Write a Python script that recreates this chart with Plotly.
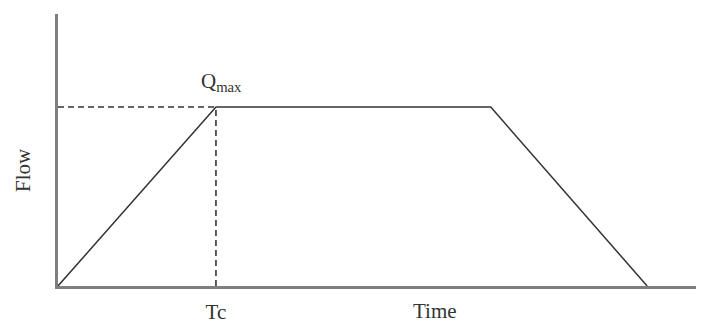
import plotly.graph_objects as go

# hydrograph outline (Tc = 1, Qmax = 1)
time = [0, 1, 2.74, 3.73]
flow = [0, 1, 1, 0]
tc = 1
qmax = 1
x_max = 4.09
y_max = 1.52

fig = go.Figure()
# dashed guides to Qmax and Tc
fig.add_trace(go.Scatter(x=[0, tc], y=[qmax, qmax], mode="lines",
                         line=dict(color="#333333", width=1.6, dash="6px,4px")))
fig.add_trace(go.Scatter(x=[tc, tc], y=[0, qmax], mode="lines",
                         line=dict(color="#333333", width=1.6, dash="6px,4px")))
fig.add_trace(go.Scatter(x=time, y=flow, mode="lines",
                         line=dict(color="#333333", width=1.5)))

font = dict(family="Liberation Serif", size=21, color="#333333")
# page body adds 8px margin, so figure is sized to fit the window
fig.update_layout(
    width=696, height=316,
    margin=dict(l=50, r=0, t=6, b=38),
    paper_bgcolor="white", plot_bgcolor="white",
    showlegend=False,
    font=font,
    xaxis=dict(range=[0, x_max], showgrid=False, zeroline=False,
               showline=True, linecolor="#7f7f7f", linewidth=3,
               tickvals=[tc], ticktext=["Tc"], ticks="", ticklabelstandoff=5),
    yaxis=dict(range=[0, y_max], showgrid=False, zeroline=False,
               showline=True, linecolor="#7f7f7f", linewidth=3,
               showticklabels=False, ticks=""),
)
fig.add_annotation(x=2.39, y=0, yref="y", text="Time", showarrow=False,
                   yanchor="top", yshift=-11, font=font)
fig.add_annotation(x=-0.076, y=0.426, xref="paper", yref="paper", text="Flow",
                   showarrow=False, textangle=-90, font=font)
fig.add_annotation(x=tc, y=qmax, text="Q<sub>max</sub>", showarrow=False,
                   yanchor="bottom", yshift=10, xshift=6, font=font)

fig.write_html("out.html")
